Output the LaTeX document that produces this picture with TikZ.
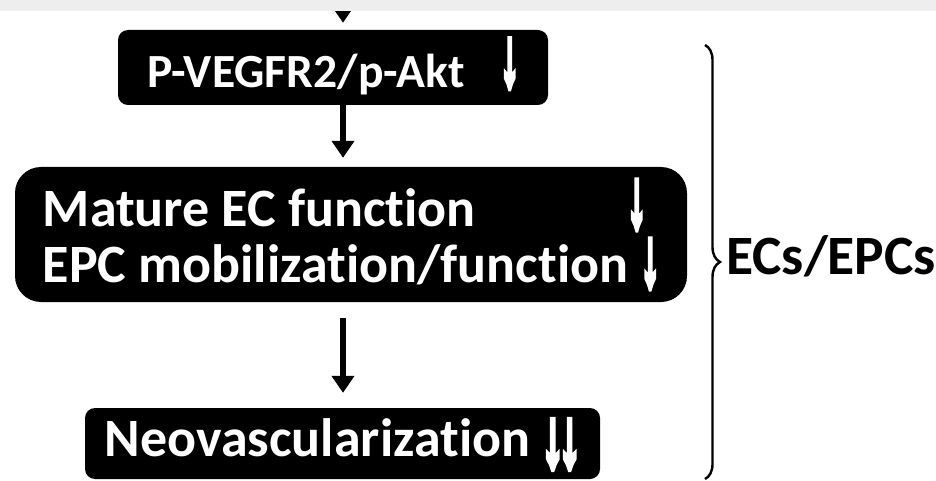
\documentclass[tikz,border=0pt]{standalone}
\usepackage{fontspec}
\setmainfont{Carlito}[Ligatures=NoCommon]
\newfontfamily\arrowfont{Liberation Sans}[FakeBold=9]
\usetikzlibrary{arrows.meta,decorations.pathreplacing,positioning}
\definecolor{band}{HTML}{EEEEEE}
\tikzset{
  stage/.style = {fill=black, text=white, inner sep=0pt, align=left, rounded corners=10pt},
  link/.style  = {draw, line width=5.5pt, -{Triangle[width=22pt,length=17pt]}},
  group/.style = {draw, decorate, decoration={brace, amplitude=15pt}, line width=2.4pt}
}
% arrow glyph: drop below baseline, width, height, glyph
\newcommand{\glyph}[4]{\raisebox{-#1}{\resizebox*{#2}{#3}{\raisebox{\depth}{\arrowfont #4}}}}
\newcommand{\dn}[1][0pt]{\glyph{#1}{18pt}{48pt}{↓}}
\newcommand{\ddn}[1][0pt]{\glyph{#1}{38pt}{48pt}{↓\kern-0.1em↓}}

\begin{document}
\begin{tikzpicture}[x=1pt, y=-1pt]
    \useasboundingbox (0,0) rectangle (936,481);
    \fill[white] (0,0) rectangle (936,481);

    % signalling steps
    \node [stage, minimum width=430pt, minimum height=75pt,
           font=\bfseries\fontsize{47.6}{50}\selectfont] (vegf) at (333,67.5)
          {P-VEGFR2/p-Akt\hspace{36pt}\dn[0pt]};
    \node [stage, rounded corners=26pt, minimum width=672pt, minimum height=135pt,
           font=\bfseries\fontsize{54}{56}\selectfont] (func) at (351,234.5)
          {Mature EC function\hspace{152pt}\dn[3pt]\\
           EPC mobilization/function\hspace{13pt}\dn[6pt]};
    \node [stage, minimum width=515pt, minimum height=71pt,
           font=\bfseries\fontsize{54}{56}\selectfont] (neo) at (342.5,443.5)
          {Neovascularization\hspace{12pt}\ddn[12pt]};

    % connectors
    \coordinate (feed) at (343,0);
    \draw [link, shorten >=7pt] (feed) -- (vegf.north -| feed);
    \draw [link, shorten >=9pt] (vegf.south -| feed) -- (func.north -| feed);
    \draw [link, shorten <=16pt, shorten >=15pt] (func.south -| feed) -- (neo.north -| feed);
    \fill [band] (0,0) rectangle (936,11);

    % brace and label
    \coordinate (brtop) at (705,45);
    \coordinate (brbot) at (705,479);
    \draw [group] (brtop) -- (brbot);
    \node [font=\bfseries\fontsize{55.5}{57}\selectfont, anchor=base west, inner sep=0pt]
          (cells) at (726,274) {ECs/EPCs};
\end{tikzpicture}
\end{document}
